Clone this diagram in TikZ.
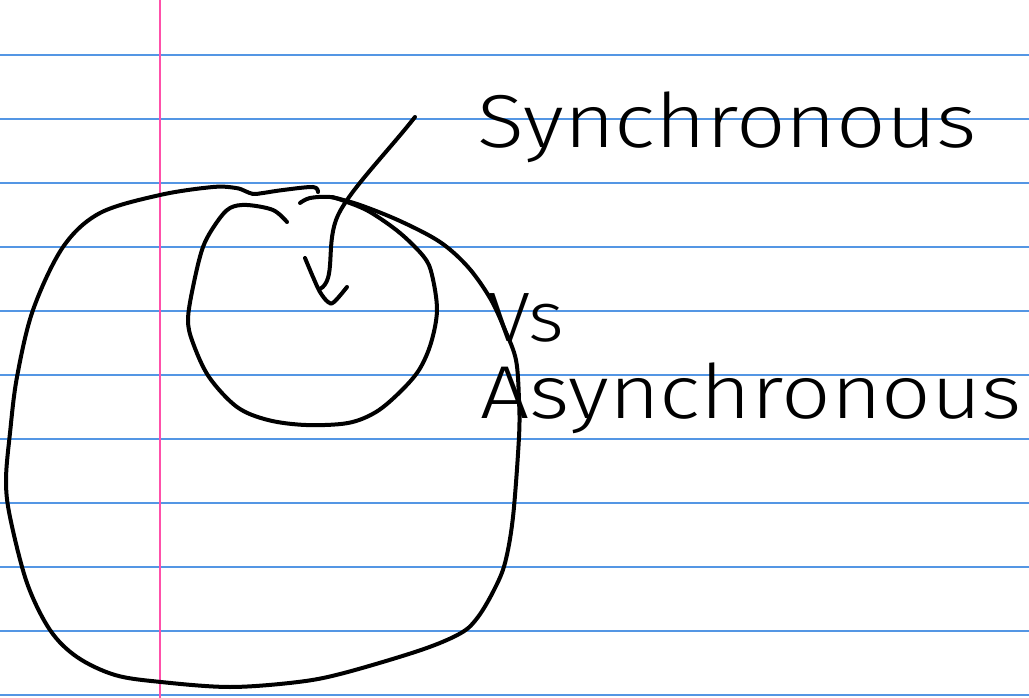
\documentclass[tikz,border=0pt]{standalone}
\usepackage{fontspec}
\newfontfamily\handfont{Fira Sans Light}
\usetikzlibrary{positioning}

\definecolor{ruleblue}{RGB}{84,150,228}
\definecolor{marginpink}{RGB}{255,80,170}

\begin{document}
\begin{tikzpicture}[
    x=1pt, y=-1pt,
    ruled/.style={ruleblue, line width=1.5pt},
    margin/.style={marginpink, line width=2pt},
    ink/.style={black, line width=4pt, line cap=round, line join=round},
    hand/.style={font=\handfont\fontsize{75}{75}\selectfont, inner sep=0pt,
                 anchor=base west, text=black, xscale=1.16, transform shape},
  ]
    \useasboundingbox (0,0) rectangle (1029,698);
    \fill[white] (0,0) rectangle (1029,698);
    % lined paper
    \foreach \k in {0,...,10}
      \draw[ruled] (0,{55+64*\k}) -- (1029,{55+64*\k});
    \draw[margin] (160,0) -- (160,698);

    % outer blob
    \draw[ink] plot[smooth, tension=0.55] coordinates {
      (318,192) (313,187) (283,190) (263,193) (253,194) (245,191) (236,188)
      (213,187) (160,195) (100,213) (63,247) (33,310) (17,377) (10,433)
      (6,480) (10,517) (27,583) (50,630) (77,657) (115,675) (161,682)
      (230,687) (298,682) (344,673) (421,650) (461,633) (478,617) (494,590)
      (505,563) (513,517) (519,437) (519,400) (516,360) (505,330) (490,298)
      (468,267) (440,242) (400,221) (360,205) (332,197)};
    % inner circle
    \draw[ink] plot[smooth, tension=0.55] coordinates {
      (287,222) (273,210) (247,205) (230,208) (217,222) (203,247) (193,287)
      (188,320) (193,343) (209,377) (237,407) (268,420) (306,425) (348,423)
      (376,412) (400,392) (419,370) (431,343) (437,310) (432,275) (424,257)
      (400,233) (370,212) (347,202) (330,197) (310,198) (300,203)};

    % labels
    \node[hand] (sync) at (477,148) {Synchronous};
    \node[hand, font=\handfont\fontsize{70}{70}\selectfont, xscale=0.95]
      (vs) at (488,341) {Vs};
    \node[hand] (async) at (480,418) {Asynchronous};

    % arrow into the inner circle
    \coordinate (arrowstart) at (415,117);
    \coordinate (arrowtip) at (320,289);
    \draw[ink] (arrowstart) .. controls (385,155) and (345,195) .. (336,220)
      .. controls (326,248) and (336,280) .. (arrowtip);
    \draw[ink] plot[smooth, tension=0.6] coordinates {
      (305,258) (313,277) (320,292) (328,302) (334,302) (347,287)};
  \end{tikzpicture}
\end{document}
